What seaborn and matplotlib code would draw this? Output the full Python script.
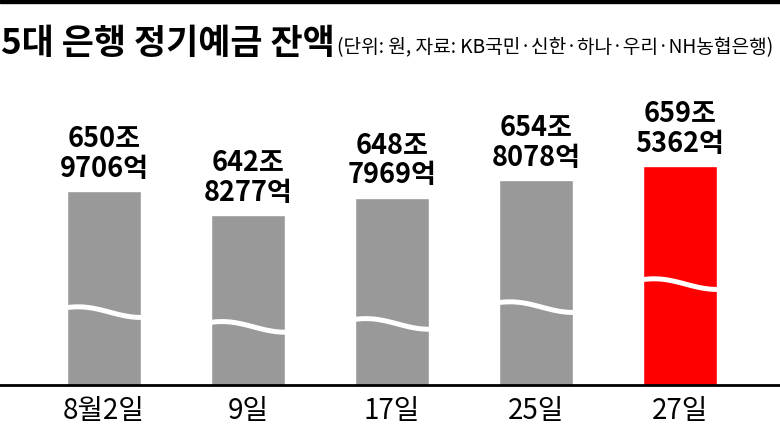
import matplotlib
matplotlib.use("Agg")
import matplotlib.pyplot as plt
from matplotlib.patches import Rectangle
import numpy as np
import pandas as pd
import seaborn as sns

# ---- data ----
dates = ["8월2일", "9일", "17일", "25일", "27일"]
jo = [650, 642, 648, 654, 659]          # 조
eok = [9706, 8277, 7969, 8078, 5362]    # 억
bar_colors = ["#999999", "#999999", "#999999", "#999999", "#FF0000"]
break_marks = [610.0, 605.0, 606.0, 611.7, 619.5]   # height of wavy break mark on each bar

title = "5대 은행 정기예금 잔액"
subtitle = "(단위: 원, 자료: KB국민·신한·하나·우리·NH농협은행)"

values = [j + e / 10000 for j, e in zip(jo, eok)]
df = pd.DataFrame({"date": dates, "value": values})

sns.set_theme(style="white")
plt.rcParams["font.family"] = ["Noto Sans CJK KR", "DejaVu Sans"]

W, H = 780, 428
fig = plt.figure(figsize=(W / 100, H / 100), dpi=100)
ax = fig.add_axes([0, (H - 385) / H, 1, (385 - 60) / H])

bw = 0.514
sns.barplot(data=df, x="date", y="value", hue="date", palette=bar_colors,
            legend=False, width=bw, saturation=1, ax=ax)

px_per_unit = 2.95
ymin = 585.3
ax.set_ylim(ymin, ymin + 325 / px_per_unit)
ax.set_xlim(-104 / 144, (780 - 104) / 144)

# wavy break marks
t = np.linspace(0, 1, 60)
amp = 1.8
for i, h in enumerate(break_marks):
    xs = i - bw / 2 + t * bw
    ys = h + amp * np.cos(np.pi * (t - 0.15) / 0.85)
    ax.plot(xs, ys, color="white", lw=3.6, solid_capstyle="butt", zorder=5)

# value labels
for i, (j, e, v) in enumerate(zip(jo, eok, values)):
    ax.annotate(f"{j}조\n{e}억", xy=(i, v), xytext=(0, 6), textcoords="offset points",
                ha="center", va="bottom", fontsize=19.5, fontweight="bold",
                linespacing=1.08, color="black")

for s in ["top", "left", "right"]:
    ax.spines[s].set_visible(False)
ax.spines["bottom"].set_color("black")
ax.spines["bottom"].set_linewidth(2)
ax.set_yticks([])
ax.set_xlabel("")
ax.set_ylabel("")
ax.tick_params(axis="x", length=0, pad=8, labelsize=20, colors="black")

# top black rule
fig.patches.append(Rectangle((0, 1 - 3 / H), 1, 3 / H, transform=fig.transFigure,
                             color="black", zorder=10))

# title + subtitle
tt = fig.text(1 / W, 1 - 54 / H, title, fontsize=25.2, fontweight="bold",
              ha="left", va="baseline", color="black")
fig.canvas.draw()
bb = tt.get_window_extent()
fig.text((bb.x1 + 2) / W, 1 - 53 / H, subtitle, fontsize=13.8,
         ha="left", va="baseline", color="black")

fig.savefig("out.png", dpi=100)
